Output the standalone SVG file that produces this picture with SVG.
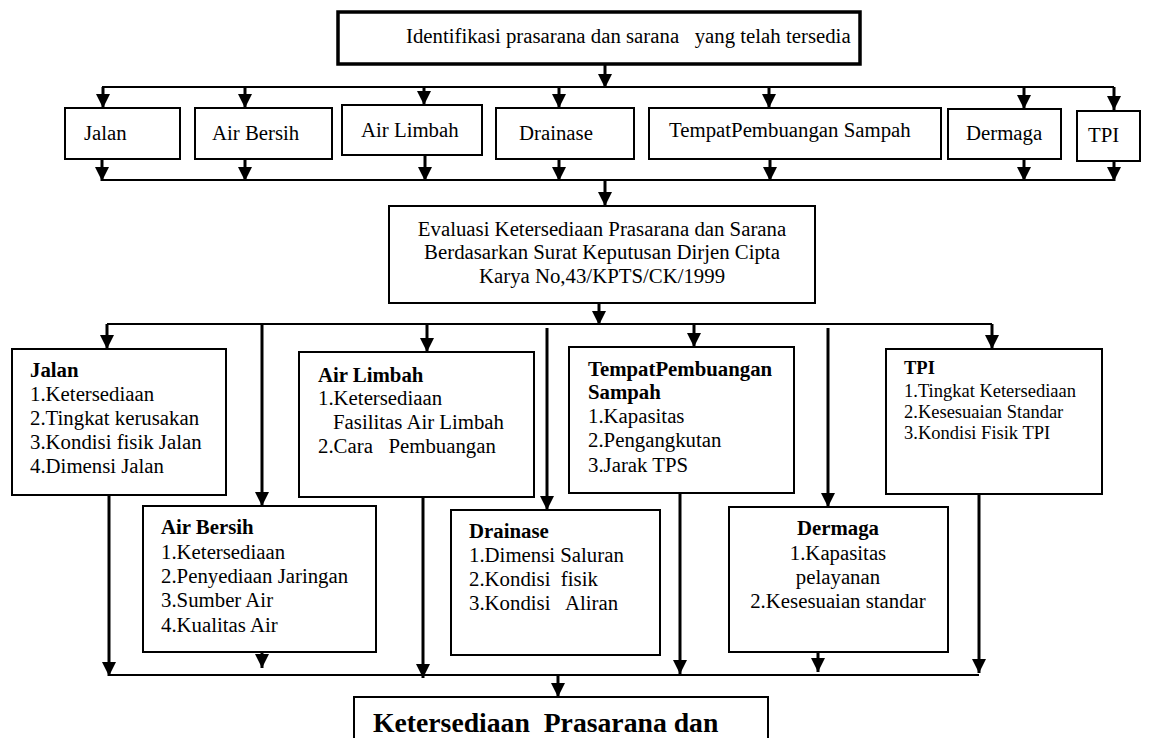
<svg xmlns="http://www.w3.org/2000/svg" width="1152" height="738" viewBox="0 0 1152 738">
<defs>
<marker id="ah" markerUnits="userSpaceOnUse" markerWidth="14" markerHeight="14" refX="14" refY="7" orient="auto" viewBox="0 0 14 14">
<path d="M0,0 L14,7 L0,14 z" fill="#000"/>
</marker>
</defs>
<style>
text{font-family:"Liberation Serif","Times New Roman",serif;font-size:20.8px;fill:#000;white-space:pre}
.b{font-weight:bold}
.box{fill:#fff;stroke:#000;stroke-width:2}
.ln{stroke:#000;stroke-width:2;fill:none}
.ar{stroke:#000;stroke-width:3;fill:none;marker-end:url(#ah)}
.sm{font-size:18.5px}
.big{font-size:27.7px;font-weight:bold}
</style>
<rect width="1152" height="738" fill="#fff"/>

<g id="connectors">
<line class="ar" x1="605" y1="64" x2="605" y2="88"/>
<line class="ln" x1="102" y1="87" x2="1114" y2="87"/>
<line class="ar" x1="103" y1="87" x2="103" y2="108"/>
<line class="ar" x1="245" y1="87" x2="245" y2="108"/>
<line class="ar" x1="424" y1="87" x2="424" y2="105"/>
<line class="ar" x1="559" y1="87" x2="559" y2="108"/>
<line class="ar" x1="769" y1="87" x2="769" y2="108"/>
<line class="ar" x1="1024" y1="87" x2="1024" y2="109"/>
<line class="ar" x1="1114" y1="87" x2="1114" y2="110"/>

<line class="ar" x1="102" y1="159" x2="102" y2="181"/>
<line class="ar" x1="245" y1="159" x2="245" y2="181"/>
<line class="ar" x1="425" y1="155" x2="425" y2="181"/>
<line class="ar" x1="559" y1="159" x2="559" y2="181"/>
<line class="ar" x1="770" y1="159" x2="770" y2="181"/>
<line class="ar" x1="1024" y1="159" x2="1024" y2="181"/>
<line class="ar" x1="1114" y1="161" x2="1114" y2="181"/>
<line class="ln" x1="102" y1="180" x2="1114" y2="180"/>
<line class="ar" x1="605" y1="180" x2="605" y2="206"/>

<line class="ar" x1="599" y1="303" x2="599" y2="325"/>
<line class="ln" x1="107" y1="324" x2="992" y2="324"/>
<line class="ar" x1="107" y1="324" x2="107" y2="349"/>
<line class="ar" x1="262" y1="324" x2="262" y2="506"/>
<line class="ar" x1="427" y1="324" x2="427" y2="352"/>
<line class="ar" x1="547" y1="328" x2="547" y2="510"/>
<line class="ar" x1="694" y1="324" x2="694" y2="347"/>
<line class="ar" x1="828" y1="328" x2="828" y2="507"/>
<line class="ar" x1="992" y1="324" x2="992" y2="349"/>

<line class="ar" x1="109" y1="495" x2="109" y2="676"/>
<line class="ar" x1="262" y1="652" x2="262" y2="668"/>
<line class="ar" x1="423" y1="497" x2="423" y2="678"/>
<line class="ar" x1="680" y1="493" x2="680" y2="674"/>
<line class="ar" x1="818" y1="652" x2="818" y2="672"/>
<line class="ar" x1="979" y1="494" x2="979" y2="673"/>
<line class="ln" x1="109" y1="675" x2="979" y2="675"/>
<line class="ar" x1="558" y1="675" x2="558" y2="697"/>
</g>

<g id="n-top">
<rect x="338" y="12" width="522" height="52" fill="#fff" stroke="#000" stroke-width="3.5"/>
<text x="406" y="43">Identifikasi prasarana dan sarana   yang telah tersedia</text>
</g>

<g id="n-jalan1"><rect class="box" x="65" y="108" width="115" height="51"/><text x="84" y="140">Jalan</text></g>
<g id="n-airbersih1"><rect class="box" x="195" y="108" width="137" height="51"/><text x="212" y="140">Air Bersih</text></g>
<g id="n-airlimbah1"><rect class="box" x="342" y="105" width="140" height="50"/><text x="361" y="137">Air Limbah</text></g>
<g id="n-drainase1"><rect class="box" x="496" y="108" width="138" height="51"/><text x="519" y="140">Drainase</text></g>
<g id="n-tps1"><rect class="box" x="649" y="108" width="292" height="51"/><text x="669" y="137">TempatPembuangan Sampah</text></g>
<g id="n-dermaga1"><rect class="box" x="948" y="109" width="113" height="50"/><text x="966" y="140">Dermaga</text></g>
<g id="n-tpi1"><rect class="box" x="1077" y="111" width="63" height="50"/><text x="1088" y="142">TPI</text></g>

<g id="n-evaluasi">
<rect class="box" x="389" y="206" width="426" height="97"/>
<text x="602" y="236" text-anchor="middle">Evaluasi Ketersediaan Prasarana dan Sarana</text>
<text x="602" y="259" text-anchor="middle">Berdasarkan Surat Keputusan Dirjen Cipta</text>
<text x="602" y="283" text-anchor="middle">Karya No,43/KPTS/CK/1999</text>
</g>

<g id="n-jalan">
<rect class="box" x="12" y="349" width="214" height="146"/>
<text class="b" x="30" y="377">Jalan</text>
<text x="30" y="401">1.Ketersediaan</text>
<text x="30" y="425">2.Tingkat kerusakan</text>
<text x="30" y="449">3.Kondisi fisik Jalan</text>
<text x="30" y="473">4.Dimensi Jalan</text>
</g>

<g id="n-airlimbah">
<rect class="box" x="299" y="352" width="235" height="145"/>
<text class="b" x="318" y="382">Air Limbah</text>
<text x="318" y="405">1.Ketersediaan</text>
<text x="333" y="429">Fasilitas Air Limbah</text>
<text x="318" y="453">2.Cara   Pembuangan</text>
</g>

<g id="n-tps">
<rect class="box" x="569" y="347" width="225" height="146"/>
<text class="b" x="588" y="376">TempatPembuangan</text>
<text class="b" x="588" y="399">Sampah</text>
<text x="588" y="423">1.Kapasitas</text>
<text x="588" y="447">2.Pengangkutan</text>
<text x="588" y="472">3.Jarak TPS</text>
</g>

<g id="n-tpi">
<rect class="box" x="886" y="349" width="216" height="145"/>
<text class="b sm" x="904" y="374">TPI</text>
<text class="sm" x="904" y="397">1.Tingkat Ketersediaan</text>
<text class="sm" x="904" y="418">2.Kesesuaian Standar</text>
<text class="sm" x="904" y="439">3.Kondisi Fisik TPI</text>
</g>

<g id="n-airbersih">
<rect class="box" x="143" y="506" width="233" height="146"/>
<text class="b" x="161" y="534">Air Bersih</text>
<text x="161" y="559">1.Ketersediaan</text>
<text x="161" y="583">2.Penyediaan Jaringan</text>
<text x="161" y="607">3.Sumber Air</text>
<text x="161" y="632">4.Kualitas Air</text>
</g>

<g id="n-drainase">
<rect class="box" x="451" y="510" width="209" height="145"/>
<text class="b" x="469" y="538">Drainase</text>
<text x="469" y="562">1.Dimensi Saluran</text>
<text x="469" y="586">2.Kondisi  fisik</text>
<text x="469" y="610">3.Kondisi   Aliran</text>
</g>

<g id="n-dermaga">
<rect class="box" x="729" y="507" width="219" height="145"/>
<text class="b" x="838" y="535" text-anchor="middle">Dermaga</text>
<text x="838" y="560" text-anchor="middle">1.Kapasitas</text>
<text x="838" y="584" text-anchor="middle">pelayanan</text>
<text x="838" y="608" text-anchor="middle">2.Kesesuaian standar</text>
</g>

<g id="n-final">
<rect class="box" x="354" y="697" width="414" height="70"/>
<text class="big" x="373" y="732">Ketersediaan  Prasarana dan</text>
</g>
</svg>
